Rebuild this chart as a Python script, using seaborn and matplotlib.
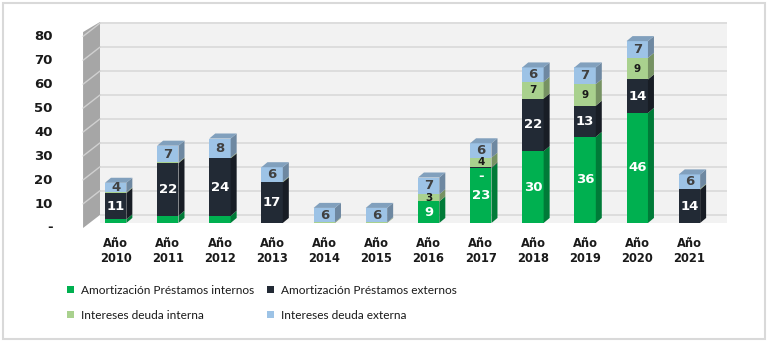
import numpy as np
import pandas as pd
import seaborn as sns
import matplotlib.pyplot as plt
import matplotlib.transforms as mtransforms
import matplotlib.colors as mcolors
from matplotlib.patches import Polygon, Patch, Rectangle

# Data (millions)
years = ['Año\n2010', 'Año\n2011', 'Año\n2012', 'Año\n2013', 'Año\n2014', 'Año\n2015',
         'Año\n2016', 'Año\n2017', 'Año\n2018', 'Año\n2019', 'Año\n2020', 'Año\n2021']
amort_internos = [1.5, 3, 3, 0, 0, 0, 9, 23, 30, 36, 46, 0]
amort_externos = [11, 22, 24, 17, 0, 0, 0, 0.3, 22, 13, 14, 14]
intereses_interna = [0.3, 0.3, 0.3, 0.3, 0.3, 0.3, 3, 4, 7, 9, 9, 0.3]
intereses_externa = [4, 7, 8, 6, 6, 6, 7, 6, 6, 7, 7, 6]

series_names = ['Amortización Préstamos internos', 'Amortización Préstamos externos',
                'Intereses deuda interna', 'Intereses deuda externa']
series_vals = [amort_internos, amort_externos, intereses_interna, intereses_externa]
colors = ['#00b050', '#222a35', '#a9d18e', '#9dc3e6']
label_colors = ['white', 'white', '#1a1a1a', '#404040']
label_sizes = [9.5, 9.5, 7.5, 9.5]
label_min = [5, 0.1, 2, 2]

sns.set_style('white')
plt.rcParams['font.family'] = ['DejaVu Sans']

fig = plt.figure(figsize=(7.68, 3.42), dpi=100)
ax = fig.add_axes([0.1302, 0.348, 0.8164, 0.5877])
ax.set_facecolor('#f2f2f2')

bottom = np.zeros(len(years))
for name, vals, c in zip(series_names, series_vals, colors):
    sns.barplot(x=years, y=vals, bottom=bottom, color=c, width=0.41,
                saturation=1, errorbar=None, ax=ax, zorder=3, linewidth=0)
    bottom = bottom + np.array(vals)

ax.set_xlim(-0.3, 11.72)
ax.set_ylim(0, 84)

# fake 3D depth on the bars
dx, dy = 0.115, 2.1
n_series = len(series_vals)
for si, cont in enumerate(ax.containers):
    base = mcolors.to_rgb(colors[si])
    side = tuple(v * 0.7 for v in base)
    top = tuple(v * 0.82 for v in base)
    for bi, p in enumerate(cont.patches):
        h = p.get_height()
        if h <= 0:
            continue
        x0, y0, w = p.get_x(), p.get_y(), p.get_width()
        x1, y1 = x0 + w, y0 + h
        ax.add_patch(Polygon([(x1, y0), (x1 + dx, y0 + dy), (x1 + dx, y1 + dy), (x1, y1)],
                             closed=True, facecolor=side, edgecolor='none', zorder=3 + si * 0.1))
        # top face only on the highest non-empty segment
        higher = [series_vals[k][bi] for k in range(si + 1, n_series)]
        if sum(higher) == 0:
            ax.add_patch(Polygon([(x0, y1), (x0 + dx, y1 + dy), (x1 + dx, y1 + dy), (x1, y1)],
                                 closed=True, facecolor=top, edgecolor='none', zorder=3.5))
        v = series_vals[si][bi]
        if v >= label_min[si]:
            if v < 1:
                # tiny segment: the dash sits just under it, inside the bar below
                ax.text(x0 + w / 2, y0 - 0.8, '-', ha='center', va='top',
                        color=label_colors[si], fontsize=label_sizes[si],
                        fontweight='bold', zorder=5)
            else:
                ax.text(x0 + w / 2, y0 + h / 2, f'{v:.0f}', ha='center', va='center',
                        color=label_colors[si], fontsize=label_sizes[si],
                        fontweight='bold', zorder=5)

# gridlines on the back wall, shifted up a little
grid_off = mtransforms.ScaledTranslation(0, 6 / 72, fig.dpi_scale_trans)
for yv in range(0, 81, 10):
    ax.plot([0, 1], [yv, yv], color='#d9d9d9', linewidth=1.2, zorder=1,
            transform=ax.get_yaxis_transform() + grid_off)

ax.set_yticks(range(0, 81, 10))
ax.set_yticklabels(['-'] + [str(v) for v in range(10, 81, 10)])
ax.tick_params(axis='y', length=0, pad=34, labelsize=9.5)
ax.tick_params(axis='x', length=0, pad=10, labelsize=8.3)
lab_off = mtransforms.ScaledTranslation(0, -2.5 / 72, fig.dpi_scale_trans)
for lab in ax.get_yticklabels():
    lab.set_transform(lab.get_transform() + lab_off)
    lab.set_fontweight('bold')
    lab.set_color('#1a1a1a')
for lab in ax.get_xticklabels():
    lab.set_fontweight('bold')
    lab.set_color('#1a1a1a')
ax.set_xlabel('')
ax.set_ylabel('')
for s in ax.spines.values():
    s.set_visible(False)

# left side wall with its slanted grid lines
ax.add_patch(Polygon([(-0.027, -0.025), (0.0, 0.04), (0.0, 1.0), (-0.027, 0.95)],
                     closed=True, transform=ax.transAxes, facecolor='#a6a6a6',
                     edgecolor='none', clip_on=False, zorder=2))
for yv in range(10, 81, 10):
    ax.plot([-0.027, 0.0], [yv - 2, yv + 3.5], color='#d0d0d0', linewidth=1.0,
            transform=ax.get_yaxis_transform(), clip_on=False, zorder=2.1)

handles = [Patch(facecolor=c, edgecolor='none') for c in colors]
order = [0, 2, 1, 3]
leg = fig.legend([handles[i] for i in order], [series_names[i] for i in order],
                 ncol=2, loc='upper left', bbox_to_anchor=(0.087, 0.168),
                 frameon=False, handlelength=0.6, handleheight=0.6,
                 handletextpad=0.6, columnspacing=1.05, labelspacing=1.2,
                 prop={'family': 'Lato', 'size': 8.6}, borderaxespad=0, borderpad=0)
for t in leg.get_texts():
    t.set_color('#1a1a1a')

fig.patches.append(Rectangle((0.004, 0.008), 0.992, 0.984, transform=fig.transFigure,
                             fill=False, edgecolor='#d9d9d9', linewidth=1.5))

fig.savefig('out.png', dpi=100)
